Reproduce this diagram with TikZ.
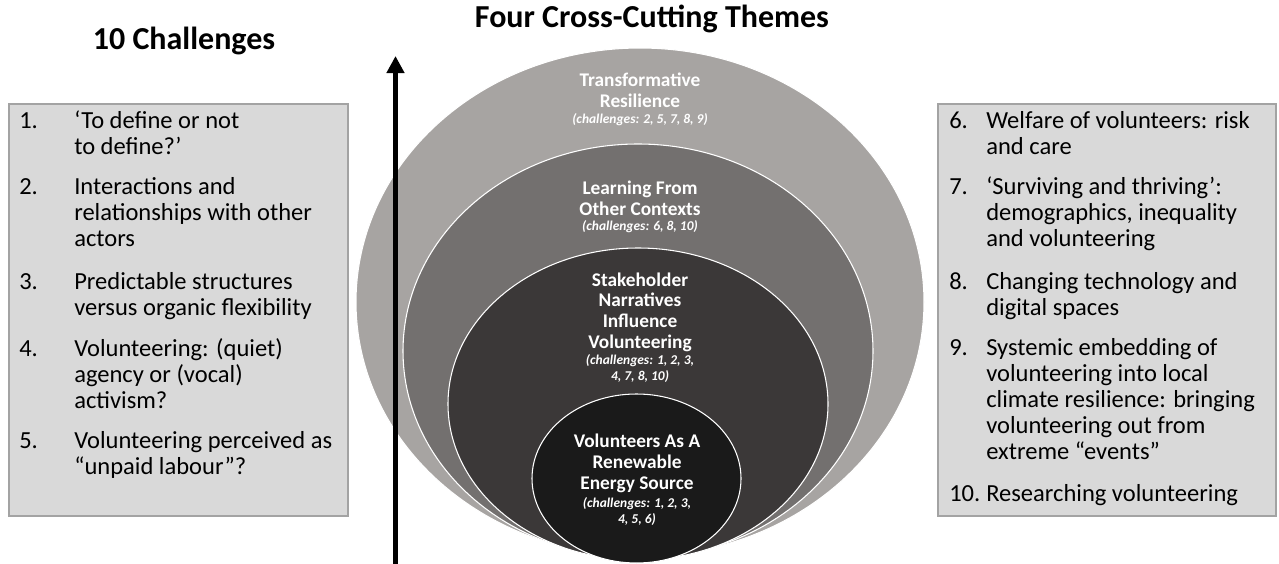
\documentclass[tikz,border=0pt]{standalone}
\usepackage{fontspec}
\setmainfont{Carlito}
\usetikzlibrary{arrows.meta}
\definecolor{ringA}{HTML}{A7A4A2}
\definecolor{ringB}{HTML}{73706F}
\definecolor{ringC}{HTML}{3B3838}
\definecolor{ringD}{HTML}{1A1A1A}
\definecolor{boxfill}{HTML}{D9D9D9}
\definecolor{boxline}{HTML}{A3A3A3}
\tikzset{
  ring/.style={draw=white, line width=0.8pt},
  listbox/.style={fill=boxfill, draw=boxline, line width=0.9pt},
  num/.style={anchor=base west, inner sep=0pt, font=\fontsize{18.4}{19.5}\selectfont},
  item/.style={anchor=base west, inner sep=0pt, align=left, font=\fontsize{18.4}{19.5}\selectfont},
  theme/.style={anchor=base, inner sep=0pt, align=center, text=white, font=\bfseries\fontsize{14.5}{15.4}\selectfont},
  chal/.style={anchor=base, inner sep=0pt, align=center, text=white, font=\bfseries\itshape\fontsize{10.1}{11.6}\selectfont},
  title/.style={anchor=base, inner sep=0pt, font=\bfseries\fontsize{24}{28}\selectfont},
}
\begin{document}
\begin{tikzpicture}[x=0.75pt, y=-0.75pt]
\useasboundingbox (0,0) rectangle (1279,564);
% titles
\node[title] (tleft) at (184,50) {10 Challenges};
\node[title] (tmid) at (652,27) {Four Cross-Cutting Themes};
% boxes
\path[listbox] (9,104) rectangle (348,516);
\path[listbox] (938,104) rectangle (1276,516);
% ellipses
\path[ring, fill=ringA] (640,302) ellipse [x radius=284, y radius=254];
\path[ring, fill=ringB] (638,351) ellipse [x radius=235, y radius=207];
\path[ring, fill=ringC] (638,404) ellipse [x radius=190, y radius=156];
\path[ring, fill=ringD] (636.5,478.5) ellipse [x radius=104.5, y radius=84.5];
% arrow
\coordinate (abot) at (395.5,564);
\coordinate (atop) at (395.5,56);
\draw[line width=4.3pt, -{Triangle[width=12.8pt, length=12.8pt]}] (abot) -- (atop);
% ellipse texts (base = last line)
\node[theme] (th1) at (640,107) {Transformative\\Resilience};
\node[chal] (ch1) at (640,123) {(challenges: 2, 5, 7, 8, 9)};
\node[theme] (th2) at (640,215) {Learning From\\Other Contexts};
\node[chal] (ch2) at (640,230) {(challenges: 6, 8, 10)};
\node[theme] (th3) at (640,348) {Stakeholder\\Narratives\\Influence\\Volunteering};
\node[chal] (ch3) at (640,380) {(challenges: 1, 2, 3,\\4, 7, 8, 10)};
\node[theme] (th4) at (637,489) {Volunteers As A\\Renewable\\Energy Source};
\node[chal] (ch4) at (637,523) {(challenges: 1, 2, 3,\\4, 5, 6)};
% left list
\node[num] (n1) at (19,128) {1.};
\node[item] (i1) at (74,154) {‘To define or not\\to define?’};
\node[num] (n2) at (19,194) {2.};
\node[item] (i2) at (74,246) {Interactions and\\relationships with other\\actors};
\node[num] (n3) at (19,289) {3.};
\node[item] (i3) at (74,315) {Predictable structures\\versus organic flexibility};
\node[num] (n4) at (19,356) {4.};
\node[item] (i4) at (74,408) {Volunteering: (quiet)\\agency or (vocal)\\activism?};
\node[num] (n5) at (19,448) {5.};
\node[item] (i5) at (74,474) {Volunteering perceived as\\“unpaid labour”?};
% right list
\node[num] (n6) at (949,128) {6.};
\node[item] (i6) at (986,154) {Welfare of volunteers: risk\\and care};
\node[num] (n7) at (949,194) {7.};
\node[item] (i7) at (986,246) {‘Surviving and thriving’:\\demographics, inequality\\and volunteering};
\node[num] (n8) at (949,289) {8.};
\node[item] (i8) at (986,315) {Changing technology and\\digital spaces};
\node[num] (n9) at (949,355) {9.};
\node[item] (i9) at (986,459) {Systemic embedding of\\volunteering into local\\climate resilience: bringing\\volunteering out from\\extreme “events”};
\node[num] (n10) at (949,501) {10.};
\node[item] (i10) at (986,501) {Researching volunteering};
\end{tikzpicture}
\end{document}
